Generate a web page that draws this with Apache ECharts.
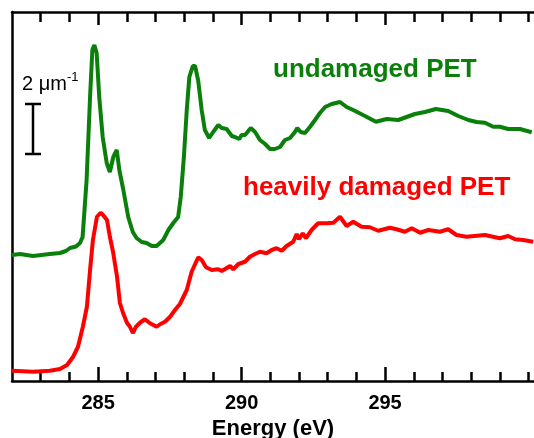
<!DOCTYPE html>
<html>
<head>
<meta charset="utf-8">
<script src="https://cdn.jsdelivr.net/npm/echarts@6/dist/echarts.min.js"></script>
<style>html,body{margin:0;padding:0;background:#fff}#c{width:534px;height:438px}</style>
</head>
<body>
<div id="c"></div>
<script>
// Undamaged PET (green): energy (eV) and absorption (um^-1, offset)
var energyUndamaged = [282.00,282.28,282.73,283.32,283.67,283.88,284.02,284.23,284.37,284.46,284.60,284.72,284.80,284.87,284.95,285.04,285.16,285.30,285.41,285.53,285.65,285.74,285.88,286.05,286.21,286.34,286.52,286.69,286.87,287.04,287.27,287.45,287.62,287.79,287.88,287.99,288.09,288.18,288.30,288.38,288.49,288.61,288.72,288.87,289.01,289.19,289.31,289.48,289.66,289.77,289.92,290.00,290.12,290.32,290.47,290.64,290.82,290.99,291.16,291.34,291.51,291.69,291.86,291.94,292.06,292.21,292.38,292.56,292.73,292.91,293.14,293.43,293.66,293.89,294.30,294.68,295.06,295.46,295.75,296.04,296.39,296.77,297.20,297.55,297.90,298.19,298.48,298.77,299.00,299.29,299.70,300.11];
var valueUndamaged = [5.04,5.08,5.00,5.08,5.12,5.20,5.32,5.38,5.52,5.76,8.04,11.36,13.24,13.44,13.12,11.36,9.76,8.72,8.36,8.96,9.24,8.44,7.64,6.56,5.96,5.72,5.56,5.52,5.40,5.40,5.64,6.04,6.32,6.56,7.36,8.96,10.84,12.16,12.60,12.60,12.00,10.84,10.04,9.72,9.96,10.24,10.12,10.08,9.80,9.76,9.68,9.84,9.84,10.12,9.96,9.64,9.48,9.28,9.28,9.36,9.64,9.72,9.96,10.12,9.96,9.92,10.16,10.44,10.72,10.96,11.08,11.16,10.96,10.84,10.60,10.37,10.48,10.44,10.56,10.68,10.76,10.88,10.80,10.60,10.44,10.36,10.33,10.17,10.17,10.08,10.08,9.95];

// Heavily damaged PET (red)
var energyDamaged = [282.00,282.73,283.32,283.67,283.92,284.13,284.30,284.47,284.61,284.72,284.82,284.96,285.09,285.17,285.31,285.41,285.52,285.66,285.76,285.87,286.01,286.11,286.21,286.32,286.46,286.63,286.81,287.04,287.16,287.33,287.51,287.68,287.85,288.09,288.26,288.49,288.61,288.76,288.96,289.19,289.31,289.60,289.71,289.89,290.12,290.29,290.47,290.64,290.87,291.05,291.22,291.40,291.57,291.80,291.92,292.00,292.13,292.24,292.44,292.67,292.97,293.20,293.43,293.66,293.89,294.18,294.47,294.76,295.17,295.40,295.69,295.93,296.22,296.51,296.91,297.20,297.49,297.84,298.48,299.00,299.29,299.53,299.81,300.16];
var valueDamaged = [0.41,0.37,0.41,0.48,0.64,0.97,1.37,2.17,2.97,4.44,5.64,6.57,6.73,6.64,6.44,5.77,5.17,4.17,3.12,2.72,2.32,2.17,1.92,2.17,2.33,2.47,2.31,2.17,2.27,2.37,2.57,2.84,3.08,3.64,4.37,4.95,4.84,4.55,4.44,4.47,4.40,4.60,4.47,4.68,4.77,4.97,5.08,5.17,5.11,5.24,5.31,5.21,5.40,5.57,5.88,5.67,5.91,5.71,6.04,6.31,6.31,6.33,6.57,6.20,6.37,6.17,6.15,6.01,6.13,6.07,5.97,6.11,5.93,6.04,5.97,6.07,5.84,5.77,5.84,5.71,5.80,5.67,5.64,5.57];

var majorTicks = [285, 290, 295];
var minorTicks = [283, 284, 286, 287, 288, 289, 291, 292, 293, 294, 296, 297, 298, 299, 300];

function pairs(xs, ys) { return xs.map(function (x, i) { return [x, ys[i]]; }); }

var FONT = '"Liberation Sans", Arial, Helvetica, sans-serif';
var X_MIN = 282, X_MAX = 300.19;

function xax(pos, ticks, len, showLine, showLabel) {
  return {
    type: 'value', position: pos, min: X_MIN, max: X_MAX,
    axisLine: { show: showLine, onZero: false, lineStyle: { color: '#000', width: 2.5 } },
    axisTick: { show: true, inside: true, length: len, customValues: ticks, lineStyle: { color: '#000', width: 2.5 } },
    axisLabel: showLabel ? { show: true, customValues: majorTicks, color: '#000', fontFamily: FONT, fontWeight: 'bold', fontSize: 20, margin: 12 } : { show: false },
    splitLine: { show: false }
  };
}

var chart = echarts.init(document.getElementById('c'), null, { renderer: 'canvas' });
var xa0 = xax('bottom', minorTicks, 9, true, true);
xa0.name = 'Energy (eV)';
xa0.nameLocation = 'middle';
xa0.nameGap = 32;
xa0.nameTextStyle = { color: '#000', fontFamily: FONT, fontWeight: 'bold', fontSize: 22 };

chart.setOption({
  animation: false,
  backgroundColor: '#fff',
  grid: { left: 12, right: 0, top: 12, bottom: 57, containLabel: false, outerBoundsMode: 'none' },
  xAxis: [
    xa0,
    xax('bottom', majorTicks, 14, false, false),
    xax('top', minorTicks, 10, true, false),
    xax('top', majorTicks, 13, false, false)
  ],
  yAxis: {
    type: 'value', min: 0, max: 14.76,
    axisLine: { show: true, lineStyle: { color: '#000', width: 2.5 } },
    axisTick: { show: false }, axisLabel: { show: false }, splitLine: { show: false }
  },
  series: [
    { type: 'line', xAxisIndex: 0, data: pairs(energyDamaged, valueDamaged), showSymbol: false, smooth: false,
      lineStyle: { color: '#ff0000', width: 4 }, itemStyle: { color: '#ff0000' } },
    { type: 'line', xAxisIndex: 0, data: pairs(energyUndamaged, valueUndamaged), showSymbol: false, smooth: false,
      lineStyle: { color: '#0a800a', width: 4 }, itemStyle: { color: '#0a800a' } }
  ],
  graphic: [
    { type: 'text', left: 273, top: 57, style: { text: 'undamaged PET', fill: '#0a800a', font: 'bold 26px ' + FONT } },
    { type: 'text', left: 243, top: 175, style: { text: 'heavily damaged PET', fill: '#ff0000', font: 'bold 26px ' + FONT } },
    { type: 'text', left: 22, top: 74, style: { text: '2 \u03bcm', fill: '#000', font: '20px ' + FONT } },
    { type: 'text', left: 67, top: 71, style: { text: '-1', fill: '#000', font: '13px ' + FONT } },
    { type: 'line', shape: { x1: 33, y1: 104, x2: 33, y2: 154 }, style: { stroke: '#000', lineWidth: 2.5 } },
    { type: 'line', shape: { x1: 25, y1: 104, x2: 41, y2: 104 }, style: { stroke: '#000', lineWidth: 2.5 } },
    { type: 'line', shape: { x1: 25, y1: 154, x2: 41, y2: 154 }, style: { stroke: '#000', lineWidth: 2.5 } }
  ]
});
</script>
</body>
</html>
